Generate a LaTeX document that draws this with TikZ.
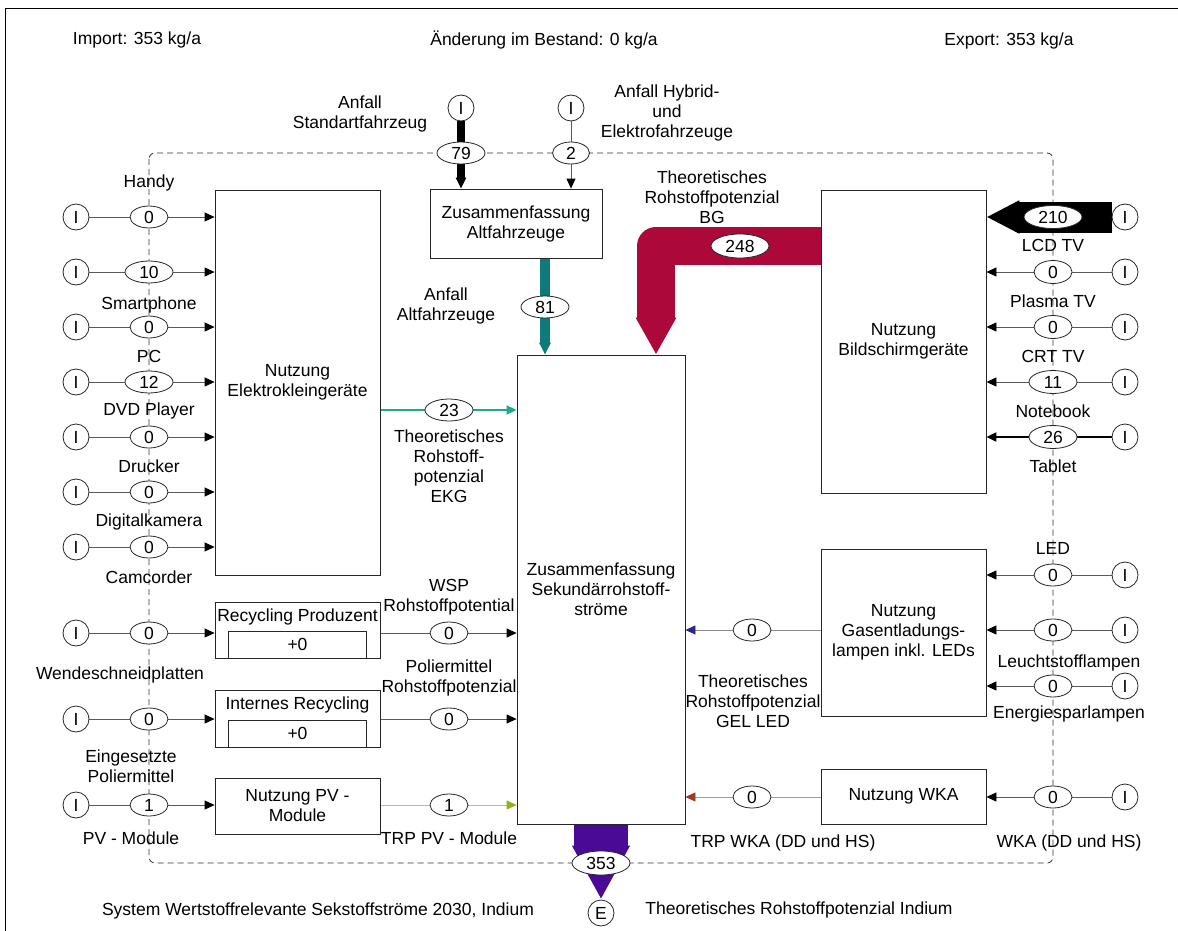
\documentclass[tikz,border=0pt]{standalone}
\usepackage{fontspec}
\setmainfont{Liberation Sans}
\usetikzlibrary{
    arrows.meta,
    backgrounds,
    shapes.geometric,
    positioning
}
\definecolor{flowteal}{RGB}{16,122,120}
\definecolor{flowgreen}{RGB}{32,168,138}
\definecolor{flowred}{RGB}{172,8,58}
\definecolor{flowpurple}{RGB}{74,10,150}
\definecolor{flowolive}{RGB}{184,200,90}
\definecolor{flowlime}{RGB}{140,180,20}
\definecolor{flownavy}{RGB}{40,40,140}
\definecolor{flowbrown}{RGB}{160,60,30}
\definecolor{flowpink}{RGB}{232,128,128}
\definecolor{linegray}{RGB}{90,90,90}
\newcommand{\diagfont}{\fontsize{17.5}{20}\selectfont}
\tikzset{
    % Box styles
    process box/.style={
        draw=black!85,
        fill=white,
        rectangle,
        line width=0.8pt,
        align=center,
        inner sep=2pt
    },
    stock box/.style={
        draw=black!85,
        fill=white,
        rectangle,
        line width=0.8pt,
        minimum width=138pt,
        minimum height=27pt,
        inner sep=0pt,
        anchor=south
    },
    % Values and sources
    val node/.style={
        draw=black!85,
        fill=white,
        ellipse,
        line width=0.8pt,
        inner sep=0pt,
        minimum width=38pt,
        minimum height=22pt
    },
    wide val node/.style={val node, minimum width=48pt},
    big val node/.style={val node, minimum width=58pt, minimum height=24pt},
    src node/.style={
        draw=black!85,
        fill=white,
        circle,
        line width=0.8pt,
        inner sep=0pt,
        minimum size=26pt
    },
    flow label/.style={align=center, inner sep=0pt},
    % Arrow styles
    flow line/.style={draw=linegray, line width=0.8pt},
    flow arrow/.style={
        flow line,
        -{Triangle[length=10pt,width=9pt,color=black]}
    },
    system border/.style={
        draw=black!80,
        line width=0.8pt,
        dash pattern=on 6pt off 4pt,
        rounded corners=6pt
    }
}

\begin{document}
\begin{tikzpicture}[x=1pt, y=-1pt, every node/.style={font=\diagfont}]
\useasboundingbox (0,0) rectangle (1178,931);
\draw[line width=1pt] (1178,9) -- (5,9) -- (5,931);

% balance
\node (import) at (137,40) {Import: 353 kg/a};
\node (stock) at (544,40) {Änderung im Bestand: 0 kg/a};
\node (export) at (1009,41) {Export: 353 kg/a};

% flow labels
\node[flow label] (lbl std) at (360,113.5) {Anfall\\Standartfahrzeug};
\node[flow label] (lbl hyb) at (667,113) {Anfall Hybrid-\\und\\Elektrofahrzeuge};
\node[flow label] (lbl bg) at (712,197) {Theoretisches\\Rohstoffpotenzial\\BG};
\node[flow label] (lbl alt) at (446,305.5) {Anfall\\Altfahrzeuge};
\node[flow label] (lbl ekg) at (449,466) {Theoretisches\\Rohstoff-\\potenzial\\EKG};
\node[flow label] (lbl wsp) at (449,597) {WSP\\Rohstoffpotential};
\node[flow label] (lbl pol) at (449,678) {Poliermittel\\Rohstoffpotenzial};
\node[flow label] (lbl trp pv) at (449,838) {TRP PV - Module};
\node[flow label] (lbl gel) at (753,701) {Theoretisches\\Rohstoffpotenzial\\GEL LED};
\node[flow label] (lbl trp wka) at (783,843) {TRP WKA (DD und HS)};
\node[flow label] (lbl indium) at (799,910) {Theoretisches Rohstoffpotenzial Indium};
\node[flow label] (title) at (318,911) {System Wertstoffrelevante Sekstoffströme 2030, Indium};

\foreach \y/\t [count=\i] in {183/Handy, 305/Smartphone, 356/PC, 411/DVD Player,
        466/Drucker, 522/Digitalkamera, 577/Camcorder}
    \node[flow label] (ekg lbl \i) at (149,\y) {\t};
\node[flow label] (lbl wsp in) at (120,675) {Wendeschneidplatten};
\node[flow label] (lbl pol in) at (131,766) {Eingesetzte\\Poliermittel};
\node[flow label] (lbl pv in) at (131,838) {PV - Module};

\foreach \y/\t [count=\i] in {245/LCD TV, 301/Plasma TV, 356/CRT TV, 411/Notebook, 466/Tablet}
    \node[flow label] (bild lbl \i) at (1053,\y) {\t};
\node[flow label] (lbl led) at (1053,548) {LED};
\node[flow label] (lbl lsl) at (1069,663) {Leuchtstofflampen};
\node[flow label] (lbl esl) at (1069,714) {Energiesparlampen};
\node[flow label] (lbl wka in) at (1069,843) {WKA (DD und HS)};

% processes
\node[process box, minimum width=165pt, minimum height=385pt] (ekg) at (297.5,382.5) {Nutzung\\Elektrokleingeräte};
\node[process box, minimum width=172pt, minimum height=69pt] (altfz) at (516,223.5) {Zusammenfassung\\Altfahrzeuge};
\node[process box, minimum width=168pt, minimum height=469pt] (sek) at (601,589.5) {Zusammenfassung\\Sekundärrohstoff-\\ströme};
\node[process box, minimum width=165pt, minimum height=303pt] (bild) at (903.5,341.5) {Nutzung\\Bildschirmgeräte};
\node[process box, minimum width=165pt, minimum height=167pt] (gel) at (903.5,632.5) {Nutzung\\Gasentladungs-\\lampen inkl. LEDs};
\node[process box, minimum width=165pt, minimum height=55pt] (wka) at (903.5,796.5) {Nutzung WKA};
\node[process box, minimum width=165pt, minimum height=56pt] (pv) at (297.5,806) {Nutzung PV -\\Module};

% recycling with stock
\node[process box, minimum width=165pt, minimum height=56pt] (recprod) at (297.5,630) {};
\node[stock box] (recprod stock) at (recprod.south) {+0};
\node (recprod title) at (297.5,617) {Recycling Produzent};
\node[process box, minimum width=165pt, minimum height=57pt] (intrec) at (297.5,718.5) {};
\node[stock box] (intrec stock) at (intrec.south) {+0};
\node (intrec title) at (297.5,705) {Internes Recycling};

% sources and values
\node[src node] (std) at (461,108) {I};
\node[src node] (hyb) at (571,108) {I};
\node[wide val node] (v79) at (461,153) {79};
\node[val node, minimum width=37pt] (v2) at (571,153) {2};
\node[wide val node] (v81) at (545,307) {81};
\node[big val node] (v248) at (740,246) {248};
\node[wide val node] (v23) at (449,410) {23};
\node[val node] (vwsp) at (449,633) {0};
\node[val node] (vpol) at (449,719) {0};
\node[val node] (vpv) at (449,805) {1};
\node[val node] (vgel) at (752,630) {0};
\node[val node] (vwka) at (752,797) {0};
\node[big val node] (v353) at (601,863) {353};
\node[src node] (exit) at (601,913) {E};

\foreach \y/\v/\s [count=\i] in {217/0/val node, 272/10/wide val node, 327/0/val node,
        382/12/wide val node, 437/0/val node, 492/0/val node, 547/0/val node} {
    \node[src node] (ekg src \i) at (76,\y) {I};
    \node[\s] (ekg val \i) at (149,\y) {\v};
}
\foreach \y/\v/\n in {633/0/recprod, 719/0/intrec, 805/1/pv} {
    \node[src node] (\n\space src) at (76,\y) {I};
    \node[val node] (\n\space val) at (149,\y) {\v};
}

\foreach \y/\v/\s [count=\i] in {217/210/big val node, 272/0/val node, 327/0/val node,
        382/11/wide val node, 437/26/wide val node} {
    \node[src node] (bild src \i) at (1125,\y) {I};
    \node[\s, minimum height=23pt] (bild val \i) at (1053,\y) {\v};
}
\foreach \y [count=\i] in {575,630,686} {
    \node[src node] (gel src \i) at (1125,\y) {I};
    \node[val node] (gel val \i) at (1053,\y) {0};
}
\node[src node] (wka src) at (1125,797) {I};
\node[val node] (wka val) at (1053,797) {0};

% connectors
\begin{scope}[on background layer]
    \draw[system border] (149,153) rectangle (1053,863);

    \draw[line width=8.5pt, -{Triangle[length=11pt,width=10pt]}] (std) -- (std |- altfz.north);
    \draw[flow arrow] (hyb) -- (hyb |- altfz.north);
    \draw[flowteal, line width=10pt, -{Triangle[length=12pt,width=11pt]}]
        (v81 |- altfz.south) -- (v81 |- sek.north);
    \draw[flowred, line width=38pt, line join=round, -{Triangle[length=37pt,width=38pt]}]
        (bild.west |- v248) -| ([xshift=55pt]sek.north);
    \draw[flowpurple, line width=54pt, -{Triangle[length=54pt,width=54pt]}] (sek.south) -- (exit);

    \foreach \i in {1,...,7}
        \draw[flow arrow] (ekg src \i) -- (ekg.west |- ekg src \i);
    \foreach \n in {recprod, intrec, pv}
        \draw[flow arrow] (\n\space src) -- (\n.west |- \n\space src);

    \draw[black, line width=31pt, -{Triangle[length=33pt,width=31pt]}] (bild src 1) -- (bild.east |- bild src 1);
    \foreach \i in {2,3,4}
        \draw[flow arrow] (bild src \i) -- (bild.east |- bild src \i);
    \draw[flow arrow, draw=black, line width=2pt, -{Triangle[length=10pt,width=9pt]}] (bild src 5) -- (bild.east |- bild src 5);
    \foreach \i in {1,2,3}
        \draw[flow arrow] (gel src \i) -- (gel.east |- gel src \i);
    \draw[flow arrow] (wka src) -- (wka.east |- wka src);

    \draw[flowgreen, line width=1.6pt, -{Triangle[length=10pt,width=9pt]}] (ekg.east |- v23) -- (sek.west |- v23);
    \draw[flow arrow] (recprod.east |- vwsp) -- (sek.west |- vwsp);
    \draw[flow arrow] (intrec.east |- vpol) -- (sek.west |- vpol);
    \draw[flowolive, line width=0.8pt, -{Triangle[length=10pt,width=9pt,color=flowlime]}] (pv.east |- vpv) -- (sek.west |- vpv);
    \draw[black!45, line width=0.8pt, -{Triangle[length=10pt,width=9pt,color=flownavy]}] (gel.west |- vgel) -- (sek.east |- vgel);
    \draw[flowpink, line width=0.8pt, -{Triangle[length=10pt,width=9pt,color=flowbrown]}] (wka.west |- vwka) -- (sek.east |- vwka);
\end{scope}
\end{tikzpicture}
\end{document}
